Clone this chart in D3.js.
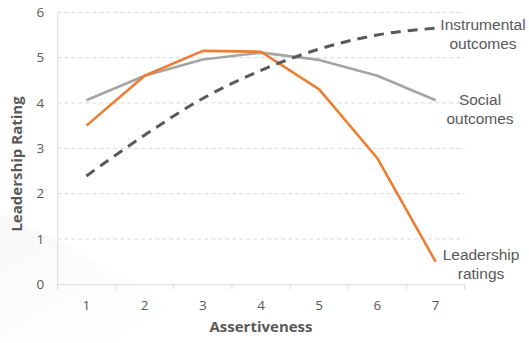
<!DOCTYPE html>
<html><head><meta charset="utf-8">
<script src="https://cdn.jsdelivr.net/npm/d3@7"></script>
<style>html,body{margin:0;padding:0;background:#fff;}svg{display:block;}</style>
</head><body>
<svg id="chart" width="529" height="343"></svg>
<script>
const categories = ["1","2","3","4","5","6","7"];
const leadershipRatings = [3.5, 4.6, 5.15, 5.13, 4.3, 2.78, 0.5];
const socialOutcomes = [4.06, 4.6, 4.96, 5.11, 4.95, 4.6, 4.06];
const instrumentalOutcomes = [2.39, 3.29, 4.1, 4.72, 5.19, 5.5, 5.65];
const yTicks = [0,1,2,3,4,5,6];
const seriesLabels = [["Instrumental","outcomes"],["Social","outcomes"],["Leadership","ratings"]];

const svg = d3.select("#chart");
const m = {left:57.3, right:464.7, top:12.3, bottom:284.3};

// subtle background swoosh
const defs = svg.append("defs");
const g1 = defs.append("linearGradient").attr("id","sw").attr("x1","0").attr("y1","0").attr("x2","1").attr("y2","1");
g1.append("stop").attr("offset","0").attr("stop-color","#e8e8e8").attr("stop-opacity",0.8);
g1.append("stop").attr("offset","1").attr("stop-color","#ffffff").attr("stop-opacity",0);
svg.append("path").attr("d",`M0,215 C70,240 140,290 230,343 L0,343 Z`).attr("fill","url(#sw)").attr("opacity",0.45);

const x = d3.scaleBand().domain(categories).range([m.left, m.right]);
const y = d3.scaleLinear().domain([0,6]).range([m.bottom, m.top]);
const cx = c => x(c) + x.bandwidth()/2;

// gridlines
svg.append("g").selectAll("line").data(yTicks.filter(t=>t>0)).join("line")
  .attr("x1", m.left).attr("x2", m.right)
  .attr("y1", d=>y(d)).attr("y2", d=>y(d))
  .attr("stroke","#d9d9d9").attr("stroke-width",1).attr("stroke-dasharray","4,3");

// y axis
const yAxis = d3.axisLeft(y).tickValues(yTicks).tickSize(0).tickPadding(13).tickFormat(d3.format("d"));
const ya = svg.append("g").attr("transform",`translate(${m.left},0)`).call(yAxis);
ya.select(".domain").attr("stroke","#d9d9d9");
ya.selectAll("text").attr("fill","#595959").style("font-family","'Open Sans'").style("font-size","13.5px");

// x axis
const xAxis = d3.axisBottom(x).tickSize(0).tickPadding(16);
const xa = svg.append("g").attr("transform",`translate(0,${m.bottom})`).call(xAxis);
xa.select(".domain").attr("stroke","#d9d9d9");
xa.selectAll("text").attr("fill","#595959").style("font-family","'Open Sans'").style("font-size","13.5px");
const edges = categories.map(c=>x(c)).concat([m.right]);
xa.append("g").selectAll("line").data(edges).join("line")
  .attr("x1",d=>d).attr("x2",d=>d).attr("y1",0).attr("y2",5)
  .attr("stroke","#d9d9d9");

// axis titles
svg.append("text").attr("x",261).attr("y",332).attr("text-anchor","middle")
  .attr("fill","#595959").style("font-family","'Open Sans'").style("font-weight","bold").style("font-size","15px")
  .text("Assertiveness");
svg.append("text").attr("transform","translate(22,164) rotate(-90)").attr("text-anchor","middle")
  .attr("fill","#595959").style("font-family","'Open Sans'").style("font-weight","bold").style("font-size","15px")
  .text("Leadership Rating");

// lines
const lineStraight = d3.line().x((d,i)=>cx(categories[i])).y(d=>y(d));
const lineSmooth = d3.line().x((d,i)=>cx(categories[i])).y(d=>y(d)).curve(d3.curveMonotoneX);

svg.append("path").datum(socialOutcomes).attr("d",lineStraight)
  .attr("fill","none").attr("stroke","#a5a5a5").attr("stroke-width",2.6).attr("stroke-linejoin","round");
svg.append("path").datum(leadershipRatings).attr("d",lineStraight)
  .attr("fill","none").attr("stroke","#ed7d31").attr("stroke-width",2.6).attr("stroke-linejoin","round");
svg.append("path").datum(instrumentalOutcomes).attr("d",lineSmooth)
  .attr("fill","none").attr("stroke","#595959").attr("stroke-width",3).attr("stroke-dasharray","10,7");

// series labels
const labelPos = [[483,30],[480,105],[481,260]];
seriesLabels.forEach((lines,i)=>{
  const t = svg.append("text").attr("text-anchor","middle").attr("fill","#595959")
    .style("font-family","'Liberation Sans', Arial, sans-serif").style("font-size","15.5px");
  lines.forEach((s,j)=>{
    t.append("tspan").attr("x",labelPos[i][0]).attr("y",labelPos[i][1]+j*18.5).text(s);
  });
});
</script>
</body></html>
